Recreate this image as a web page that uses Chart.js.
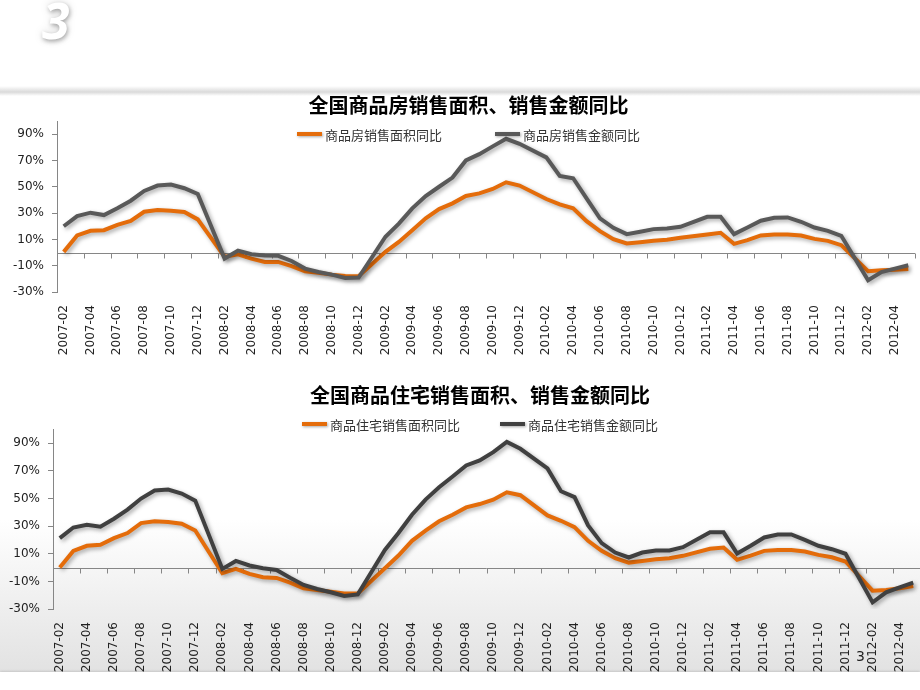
<!DOCTYPE html>
<html>
<head>
<meta charset="utf-8">
<script src="https://cdn.jsdelivr.net/npm/chart.js@4.4.0/dist/chart.umd.min.js"></script>
<style>
  body { margin: 0; width: 920px; height: 690px; overflow: hidden; position: relative; background: #fff; }
  #bigNum { position: absolute; left: 42px; top: -14px; font: bold italic 50px "Noto Sans", sans-serif; color: #fff;
    text-shadow: 1px 2px 4px rgba(0,0,0,0.3), 0 0 10px rgba(0,0,0,0.15); }
  #headShadow { position: absolute; left: 0; top: 86px; width: 920px; height: 10px;
    background: linear-gradient(to bottom, rgba(255,255,255,0), #dadada 60%, rgba(255,255,255,0)); }
  #bottomShade { position: absolute; left: 0; top: 520px; width: 920px; height: 152px;
    background: linear-gradient(to bottom, #ffffff, #e2e2e2); }
  #footer { position: absolute; left: 0; top: 672px; width: 920px; height: 18px; background: #fff;
    box-shadow: 0 -1px 2px rgba(0,0,0,0.12); z-index: 5; }
  #pageNo { position: absolute; left: 856px; top: 648px; font: 14px "DejaVu Sans", sans-serif; color: #222; z-index: 6; }
  canvas { position: absolute; left: 0; z-index: 2; }
  #chart1 { top: 89px; }
  #chart2 { top: 379px; }
</style>
</head>
<body>
<div id="bigNum">3</div>
<div id="headShadow"></div>
<div id="bottomShade"></div>
<canvas id="chart1" width="937" height="273"></canvas>
<canvas id="chart2" width="960" height="300"></canvas>
<div id="footer"></div>
<div id="pageNo">3</div>
<script>
// months 2007-02 .. 2012-05 (January has no figure, Jan-Feb reported together)
const months = [
  '2007-02','2007-03','2007-04','2007-05','2007-06','2007-07','2007-08','2007-09','2007-10','2007-11','2007-12',
  '2008-01','2008-02','2008-03','2008-04','2008-05','2008-06','2008-07','2008-08','2008-09','2008-10','2008-11','2008-12',
  '2009-01','2009-02','2009-03','2009-04','2009-05','2009-06','2009-07','2009-08','2009-09','2009-10','2009-11','2009-12',
  '2010-01','2010-02','2010-03','2010-04','2010-05','2010-06','2010-07','2010-08','2010-09','2010-10','2010-11','2010-12',
  '2011-01','2011-02','2011-03','2011-04','2011-05','2011-06','2011-07','2011-08','2011-09','2011-10','2011-11','2011-12',
  '2012-01','2012-02','2012-03','2012-04','2012-05'
];

// 全国商品房
const houseArea = [
  0.5, 13, 16.5, 17, 21, 24, 31, 32.3, 31.8, 30.8, 25.2,
  null, -3.3, -1.3, -4.6, -7.1, -7.1, -10.4, -14.2, -15.3, -16.8, -17.8, -18,
  null, 0.5, 8.1, 17, 26, 33, 37.4, 43, 45, 48.3, 53.4, 50.9,
  null, 40.7, 36.6, 33.6, 23.9, 16.3, 10.2, 6.9, 7.9, 8.9, 9.7, 11.2,
  null, 13.7, 15, 6.6, 9.4, 13, 13.7, 13.7, 13, 10.4, 8.9, 5.6,
  null, -14.2, -13.5, -13, -12.5
];
const houseSales = [
  20, 27.7, 30.3, 28.5, 33.6, 39.4, 46.8, 50.9, 51.7, 48.9, 44.5,
  null, -4.6, 1.5, -1.3, -2.3, -2.5, -6.4, -12.2, -14.8, -16.8, -19.3, -19,
  null, 12, 22, 33.6, 43, 50, 57, 70, 74.8, 80.7, 86.5, 82.7,
  null, 72.3, 58.3, 56.5, 41.2, 26, 18.8, 14, 15.8, 17.8, 18.3, 19.6,
  null, 27.2, 27.2, 14, 19, 24.2, 26.5, 26.7, 23.4, 19, 16.5, 12.7,
  null, -21, -14.8, -12.2, -9.7
];

// 全国商品住宅
const resArea = [
  0, 12.1, 15.8, 16.5, 21.3, 25, 32.2, 33.5, 33, 31.8, 26.9,
  null, -4.1, -1, -4.6, -7, -7.5, -10.9, -15, -16.2, -17.5, -18.7, -18.7,
  null, -0.5, 8.7, 19.4, 26.7, 33.5, 38.3, 43.6, 46, 49.2, 54.5, 52.4,
  null, 37.8, 33.9, 29.3, 19.4, 12.1, 6.8, 3.6, 4.8, 6, 6.8, 8.5,
  null, 13.6, 14.5, 5.6, 8.7, 12.1, 12.8, 12.8, 11.6, 9.2, 7.5, 4.4,
  null, -16.7, -16.2, -15, -13.3
];
const resSales = [
  21.3, 29, 31, 29.6, 35.4, 42, 50, 55.8, 56.5, 53.6, 48.5,
  null, -1, 4.8, 1.5, -0.5, -1.7, -7.3, -12.6, -15.5, -17.9, -20.6, -19.4,
  null, 12.8, 25, 38.3, 49.2, 58.2, 66, 74, 77.6, 83.6, 91, 86,
  null, 71.8, 55.3, 51, 30.5, 17.7, 10.9, 7.3, 10.9, 12.4, 12.4, 14.8,
  null, 25.5, 25.5, 10.2, 15.8, 21.8, 24, 24, 20.1, 15.8, 13.3, 10,
  null, -25.2, -17.9, -14.3, -10.9
];

const yTicks = [-30, -10, 10, 30, 50, 70, 90];

const ORANGE = '#E46C0A';
const axisColor = '#868686';
const cjk = '"Noto Sans CJK SC", sans-serif';

// soft shadow under each line, like the Excel effect
const lineShadow = {
  id: 'lineShadow',
  beforeDatasetDraw(chart) {
    const ctx = chart.ctx;
    ctx.save();
    ctx.shadowColor = 'rgba(0,0,0,0.35)';
    ctx.shadowBlur = 4;
    ctx.shadowOffsetX = 2;
    ctx.shadowOffsetY = 2;
  },
  afterDatasetDraw(chart) {
    chart.ctx.restore();
  }
};

// horizontal axis drawn at 0 with tick marks every two months
const zeroAxis = {
  id: 'zeroAxis',
  beforeDatasetsDraw(chart) {
    const ctx = chart.ctx;
    const xs = chart.scales.x, ys = chart.scales.y;
    const y0 = Math.round(ys.getPixelForValue(0)) + 0.5;
    const half = (xs.getPixelForValue(1) - xs.getPixelForValue(0)) / 2;
    ctx.save();
    ctx.strokeStyle = axisColor;
    ctx.lineWidth = 1;
    ctx.beginPath();
    ctx.moveTo(chart.chartArea.left, y0);
    ctx.lineTo(chart.chartArea.right, y0);
    for (let i = 2; i <= months.length; i += 2) {
      const x = Math.round(xs.getPixelForValue(i) - half) + 0.5;
      ctx.moveTo(x, y0);
      ctx.lineTo(x, y0 + 5);
    }
    ctx.stroke();
    ctx.restore();
  }
};

// Excel style legend: fixed column width per entry
const lineLegend = {
  id: 'lineLegend',
  afterDraw(chart, args, o) {
    const ctx = chart.ctx;
    const ds = chart.data.datasets;
    ctx.save();
    ctx.font = '13px ' + cjk;
    const lastW = 28 + ctx.measureText(ds[ds.length - 1].label).width;
    let x = chart.width / 2 - (o.itemWidth * (ds.length - 1) + lastW) / 2;
    ds.forEach(d => {
      ctx.save();
      ctx.shadowColor = 'rgba(0,0,0,0.35)';
      ctx.shadowBlur = 3;
      ctx.shadowOffsetX = 1;
      ctx.shadowOffsetY = 1;
      ctx.strokeStyle = d.borderColor;
      ctx.lineWidth = 4;
      ctx.beginPath();
      ctx.moveTo(x, o.y);
      ctx.lineTo(x + 25, o.y);
      ctx.stroke();
      ctx.restore();
      ctx.fillStyle = '#333';
      ctx.textBaseline = 'middle';
      ctx.fillText(d.label, x + 28, o.y + 1);
      x += o.itemWidth;
    });
    ctx.restore();
  }
};

function makeChart(id, title, titleBottom, names, area, sales, grayColor, yWidth, rightGap) {
  return new Chart(document.getElementById(id).getContext('2d'), {
    type: 'line',
    data: {
      labels: months,
      datasets: [{
        label: names[0],
        data: area,
        borderColor: ORANGE,
        borderWidth: 4,
        pointRadius: 0,
        tension: 0,
        spanGaps: true,
        order: 2
      }, {
        label: names[1],
        data: sales,
        borderColor: grayColor,
        borderWidth: 4,
        pointRadius: 0,
        tension: 0,
        spanGaps: true,
        order: 1
      }]
    },
    options: {
      responsive: false,
      animation: false,
      devicePixelRatio: 1,
      layout: { padding: 0 },
      scales: {
        x: {
          offset: true,
          grid: { display: false, drawTicks: false },
          border: { display: false },
          afterFit: s => { s.height = 70; },
          ticks: {
            autoSkip: false,
            minRotation: 90,
            maxRotation: 90,
            padding: 13,
            color: '#222',
            font: { family: '"DejaVu Sans"', size: 12 },
            callback: (v, i) => (i % 2 === 0 ? months[i] : '')
          }
        },
        y: {
          min: -30,
          max: 100,
          afterBuildTicks: s => { s.ticks = yTicks.map(v => ({ value: v })); },
          afterFit: s => { s.width = yWidth; },
          grid: { drawOnChartArea: false, tickLength: 5, color: axisColor },
          border: { color: axisColor },
          ticks: {
            padding: 8,
            color: '#222',
            font: { family: '"DejaVu Sans"', size: 12 },
            callback: v => v + '%'
          }
        },
        pad: {
          type: 'linear',
          position: 'right',
          grid: { display: false, drawTicks: false },
          border: { display: false },
          ticks: { display: false },
          afterFit: s => { s.width = rightGap; }
        }
      },
      plugins: {
        legend: { display: false },
        tooltip: { enabled: false },
        title: {
          display: true,
          text: title,
          color: '#000',
          font: { family: cjk, size: 20, weight: 'bold' },
          padding: { top: 4, bottom: titleBottom }
        },
        lineLegend: { itemWidth: 198, y: 45 }
      }
    },
    plugins: [zeroAxis, lineShadow, lineLegend]
  });
}

document.addEventListener('DOMContentLoaded', function() {
  makeChart('chart1', '全国商品房销售面积、销售金额同比', 4,
    ['商品房销售面积同比', '商品房销售金额同比'], houseArea, houseSales, '#595959', 57, 22);
  makeChart('chart2', '全国商品住宅销售面积、销售金额同比', 22.5,
    ['商品住宅销售面积同比', '商品住宅销售金额同比'], resArea, resSales, '#404040', 53, 40);
});
</script>
</body>
</html>
